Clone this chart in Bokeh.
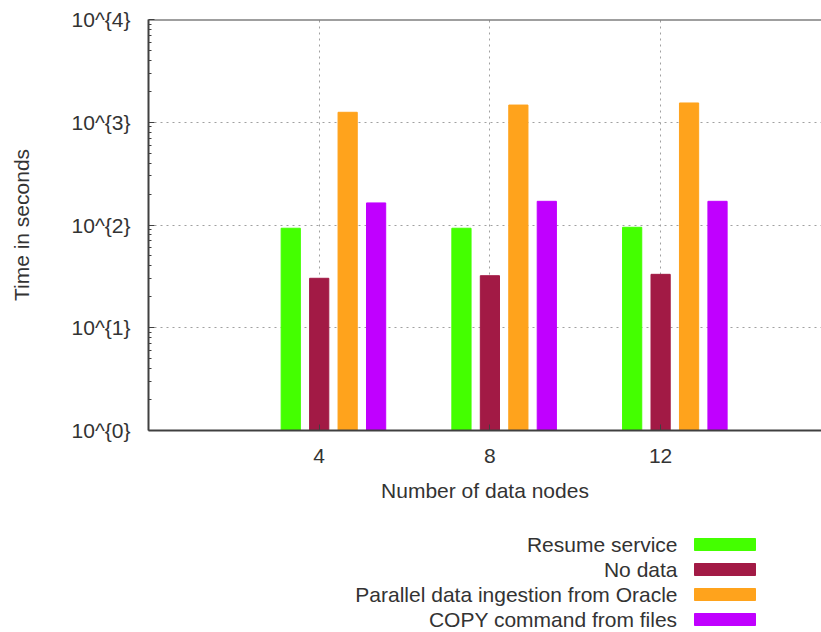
from bokeh.plotting import figure
from bokeh.models import FixedTicker, Range1d, ColumnDataSource, Span
from bokeh.layouts import column
from bokeh.embed import file_html
from bokeh.resources import INLINE
from bokeh.core.properties import value

# ---- data ----
nodes = [4, 8, 12]
series_names = ["Resume service", "No data", "Parallel data ingestion from Oracle", "COPY command from files"]
resume_service = [93, 93, 95]
no_data = [30.3, 32.1, 33.1]
parallel_oracle = [1250, 1470, 1540]
copy_files = [164, 170, 170]
series_values = [resume_service, no_data, parallel_oracle, copy_files]
colors = ["#44ff00", "#a21a45", "#ffa31c", "#c000ff"]
offsets = [-2/3, 0, 2/3, 4/3]

y_ticks = [1, 10, 100, 1000, 10000]
y_tick_labels = ["10^{0}", "10^{1}", "10^{2}", "10^{3}", "10^{4}"]
y_minor = [m * d for d in [1, 10, 100, 1000] for m in range(2, 10)]

FONT = "Liberation Sans"
FS = "21px"
TXT = "#333333"
AX = "#404040"

p = figure(width=821, height=510, y_axis_type="log",
           x_range=Range1d(0, 15.77), y_range=Range1d(1, 10000),
           output_backend="svg", toolbar_location=None,
           min_border_left=148, min_border_right=0, min_border_top=19, min_border_bottom=80)
p.outline_line_color = None
p.background_fill_color = "white"

for vals, col, off in zip(series_values, colors, offsets):
    src = ColumnDataSource(dict(x=[n + off for n in nodes], top=vals, bottom=[1]*len(vals)))
    p.vbar(x="x", top="top", bottom="bottom", width=0.45, source=src,
           fill_color=col, line_color=col, line_width=1)

# x axis
xa = p.xaxis[0]
xa.ticker = FixedTicker(ticks=nodes)
xa.major_tick_in = 6
xa.major_tick_out = 0
xa.minor_tick_line_color = None
xa.axis_line_color = AX
xa.axis_line_width = 2
xa.major_tick_line_color = AX
xa.major_label_text_font = FONT
xa.major_label_text_font_size = FS
xa.major_label_text_color = TXT
xa.major_label_standoff = 18
xa.axis_label = "Number of data nodes"
xa.axis_label_text_font = FONT
xa.axis_label_text_font_size = FS
xa.axis_label_text_font_style = "normal"
xa.axis_label_text_color = TXT
xa.axis_label_standoff = 13

# y axis
ya = p.yaxis[0]
ya.ticker = FixedTicker(ticks=y_ticks, minor_ticks=y_minor)
ya.major_label_overrides = dict(zip(y_ticks, y_tick_labels))
ya.major_tick_in = 6
ya.major_tick_out = 0
ya.minor_tick_in = 3
ya.minor_tick_out = 0
ya.axis_line_color = AX
ya.axis_line_width = 2
ya.major_tick_line_color = AX
ya.minor_tick_line_color = AX
ya.major_label_text_font = FONT
ya.major_label_text_font_size = FS
ya.major_label_text_color = TXT
ya.major_label_standoff = 18
ya.axis_label = "Time in seconds"
ya.axis_label_text_font = FONT
ya.axis_label_text_font_size = FS
ya.axis_label_text_font_style = "normal"
ya.axis_label_text_color = TXT
ya.axis_label_standoff = 36

# top border
p.add_layout(Span(location=y_ticks[-1], dimension="width", line_color=AX, line_width=2))

for g in (p.xgrid[0], p.ygrid[0]):
    g.grid_line_color = "#a0a0a0"
    g.grid_line_dash = "2 4"
    g.grid_line_width = 1
p.ygrid[0].ticker = FixedTicker(ticks=y_ticks)
p.xgrid[0].ticker = FixedTicker(ticks=nodes)

# ---- legend (gnuplot-style: text right-aligned, swatch at right) ----
LH = 122
leg = figure(width=821, height=LH, x_range=Range1d(148, 821), y_range=Range1d(LH, 0),
             output_backend="svg", toolbar_location=None,
             min_border=0, min_border_left=148, min_border_right=0, min_border_top=0, min_border_bottom=0)
leg.axis.visible = False
leg.grid.visible = False
leg.outline_line_color = None
row_y = [34 + 25 * i for i in range(len(series_names))]
leg.text(x=[677] * len(series_names), y=row_y, text=series_names,
         text_align="right", text_baseline="middle",
         text_font=value(FONT), text_font_size=FS, text_color=TXT)
leg.rect(x=[724.5] * len(series_names), y=row_y, width=61, height=12,
         fill_color=colors, line_color=colors)

layout = column(p, leg, spacing=0)
open("out.html", "w").write(file_html(layout, INLINE))
